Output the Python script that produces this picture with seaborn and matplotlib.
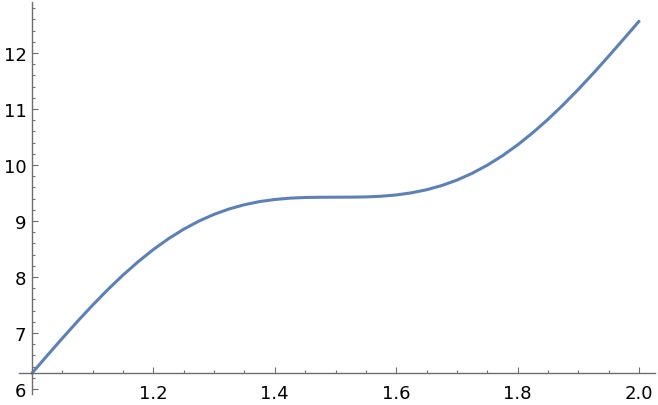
import matplotlib
matplotlib.use("Agg")

import matplotlib.pyplot as plt
import seaborn as sns
import numpy as np

# curve values (x step 0.025)
x_vals = [1.000, 1.025, 1.050, 1.075, 1.100, 1.125, 1.150, 1.175, 1.200, 1.225,
          1.250, 1.275, 1.300, 1.325, 1.350, 1.375, 1.400, 1.425, 1.450, 1.475,
          1.500, 1.525, 1.550, 1.575, 1.600, 1.625, 1.650, 1.675, 1.700, 1.725,
          1.750, 1.775, 1.800, 1.825, 1.850, 1.875, 1.900, 1.925, 1.950, 1.975,
          2.000]
y_vals = [6.283, 6.597, 6.906, 7.208, 7.499, 7.776, 8.035, 8.274, 8.491, 8.685,
          8.854, 8.999, 9.119, 9.216, 9.291, 9.347, 9.384, 9.408, 9.420, 9.424,
          9.425, 9.426, 9.430, 9.442, 9.465, 9.503, 9.558, 9.633, 9.730, 9.851,
          9.996, 10.165, 10.359, 10.576, 10.815, 11.074, 11.350, 11.641, 11.943, 12.253,
          12.566]

x_ticks = [1.2, 1.4, 1.6, 1.8, 2.0]
x_ticklabels = ["1.2", "1.4", "1.6", "1.8", "2.0"]
y_ticks = [6, 7, 8, 9, 10, 11, 12]

sns.set_style("white")
plt.rcParams["font.family"] = ["DejaVu Sans"]

fig = plt.figure(figsize=(6.58, 4.06), dpi=100)
ax = fig.add_axes([0, 0, 1, 1])

sns.lineplot(x=x_vals, y=y_vals, ax=ax, color="#5E81B5", linewidth=2.2)

ax.set_xlim(1 - 32 / 607, 2 + 19 / 607)
ax.set_ylim(6 - 16 / 56, 6 + 390 / 56)

axis_col = "#6e6e6e"
for s in ["top", "right"]:
    ax.spines[s].set_visible(False)
ax.spines["left"].set_position(("data", 1.0))
ax.spines["bottom"].set_position(("data", y_vals[0]))
ax.spines["left"].set_bounds(5.91, 12.91)
ax.spines["bottom"].set_bounds(0.979, 2.026)
for s in ["left", "bottom"]:
    ax.spines[s].set_color(axis_col)
    ax.spines[s].set_linewidth(1.0)

ax.set_xticks(x_ticks)
ax.set_xticklabels(x_ticklabels)
ax.set_xticks(np.arange(1.05, 2.0, 0.05), minor=True)
ax.set_yticks(y_ticks)
ax.set_yticks(np.arange(6.2, 12.9, 0.2), minor=True)

ax.tick_params(which="both", bottom=True, left=True, direction="in",
               color=axis_col, width=0.8, labelsize=13, labelcolor="black")
ax.tick_params(which="major", length=4)
ax.tick_params(which="minor", length=2.5)
ax.tick_params(axis="x", which="major", pad=8)
ax.tick_params(axis="y", which="major", pad=4)

ax.set_xlabel("")
ax.set_ylabel("")
ax.patch.set_alpha(0)

fig.savefig("out.png", dpi=100)
